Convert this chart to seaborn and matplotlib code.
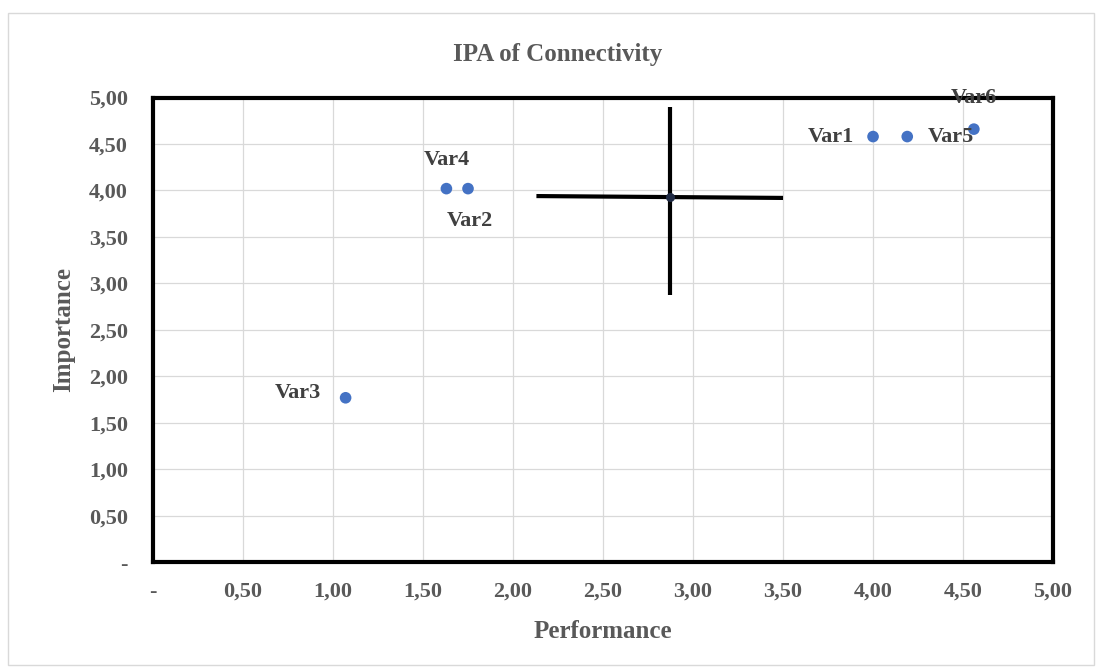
import matplotlib
matplotlib.use("Agg")
import matplotlib.pyplot as plt
import seaborn as sns
import pandas as pd
from matplotlib.patches import Rectangle

# Data
variables = ["Var1", "Var2", "Var3", "Var4", "Var5", "Var6"]
performance = [4.00, 1.75, 1.07, 1.63, 4.19, 4.56]
importance = [4.58, 4.02, 1.77, 4.02, 4.58, 4.66]

center_perf = 2.87
center_imp = 3.93
cross_h_x = [2.13, 3.50]
cross_h_y = [3.94, 3.92]
cross_v_x = [2.87, 2.87]
cross_v_y = [2.88, 4.90]

tick_vals = [0, 0.5, 1.0, 1.5, 2.0, 2.5, 3.0, 3.5, 4.0, 4.5, 5.0]
tick_labels = ["-", "0,50", "1,00", "1,50", "2,00", "2,50", "3,00", "3,50", "4,00", "4,50", "5,00"]

df = pd.DataFrame({"Performance": performance, "Importance": importance, "Var": variables})

sns.set_theme(style="white")
plt.rcParams['font.family'] = ['Liberation Serif', 'DejaVu Serif']

fig = plt.figure(figsize=(10.99, 6.68), dpi=100)
ax = fig.add_axes([0.1392, 0.1582, 0.8190, 0.6958])

# outer chart border
fig.patches.append(Rectangle((0.007, 0.005), 0.988, 0.975, transform=fig.transFigure,
                             fill=False, edgecolor="#d9d9d9", linewidth=1))

ax.set_xlim(0, 5)
ax.set_ylim(0, 5)
ax.set_xticks(tick_vals)
ax.set_yticks(tick_vals)
ax.set_xticklabels(tick_labels)
ax.set_yticklabels(tick_labels)
ax.grid(True, color="#d9d9d9", linewidth=0.9)
ax.set_axisbelow(True)

# crosshair
ax.plot(cross_h_x, cross_h_y, color="black", linewidth=3, solid_capstyle="butt", zorder=3)
ax.plot(cross_v_x, cross_v_y, color="black", linewidth=3, solid_capstyle="butt", zorder=3)
ax.scatter([center_perf], [center_imp], s=30, color="#1f2a44", zorder=4)

sns.scatterplot(data=df, x="Performance", y="Importance", ax=ax, s=70,
                color="#4472C4", edgecolor="none", zorder=5, legend=False)

label_style = dict(fontsize=16, fontweight="bold", color="#404040", zorder=6)
offsets = {
    "Var1": (-0.105, 0.0, "right"),
    "Var2": (0.01, -0.35, "center"),
    "Var3": (-0.138, 0.05, "right"),
    "Var4": (0.0, 0.31, "center"),
    "Var5": (0.116, 0.0, "left"),
    "Var6": (0.0, 0.34, "center"),
}
for v, px, py in zip(variables, performance, importance):
    dx, dy, ha = offsets[v]
    ax.text(px + dx, py + dy, v, ha=ha, va="center", **label_style)

for side in ["left", "right", "top", "bottom"]:
    ax.spines[side].set_visible(True)
    ax.spines[side].set_color("black")
    ax.spines[side].set_linewidth(3)

ax.tick_params(axis="both", length=0, labelsize=16, labelcolor="#595959")
for lab in ax.get_xticklabels() + ax.get_yticklabels():
    lab.set_fontweight("bold")
ax.tick_params(axis="x", pad=14)
ax.tick_params(axis="y", pad=18)

ax.set_xlabel("Performance", fontsize=18, fontweight="bold", color="#595959", labelpad=13)
ax.set_ylabel("Importance", fontsize=18, fontweight="bold", color="#595959", labelpad=10)
fig.text(0.5077, 0.918, "IPA of Connectivity", ha="center", va="center",
         fontsize=18, fontweight="bold", color="#595959")

fig.savefig("out.png", dpi=100, facecolor="white")
